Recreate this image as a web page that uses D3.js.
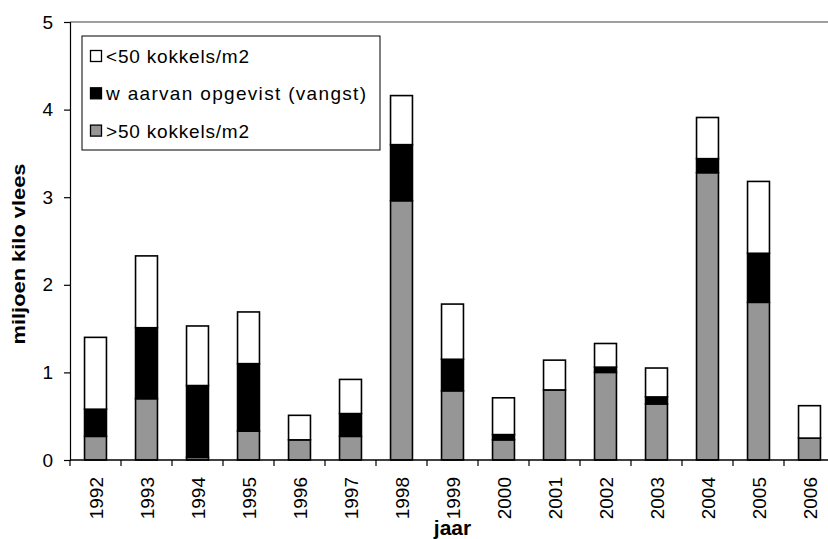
<!DOCTYPE html>
<html>
<head>
<meta charset="utf-8">
<script src="https://cdn.jsdelivr.net/npm/d3@7"></script>
<style>
  html, body { margin: 0; padding: 0; background: #fff; }
  svg { display: block; font-family: "Liberation Sans", Arial, sans-serif; }
</style>
</head>
<body>
<svg id="chart" width="828" height="539"></svg>
<script>
// ---- data ----
const years = ["1992","1993","1994","1995","1996","1997","1998","1999","2000","2001","2002","2003","2004","2005","2006"];
// >50 kokkels/m2 (bottom, grey)
const above50 = [0.27,0.70,0.03,0.33,0.23,0.27,2.96,0.79,0.23,0.80,1.00,0.64,3.28,1.80,0.25];
// waarvan opgevist (vangst) (middle, black)
const caught  = [0.31,0.81,0.82,0.77,0.00,0.26,0.64,0.36,0.06,0.00,0.06,0.08,0.16,0.56,0.00];
// <50 kokkels/m2 (top, white)
const below50 = [0.82,0.82,0.68,0.59,0.28,0.39,0.56,0.63,0.42,0.34,0.27,0.33,0.47,0.82,0.37];
const yTicks = [0,1,2,3,4,5];
const seriesNames = ["<50 kokkels/m2", "w aarvan opgevist (vangst)", ">50 kokkels/m2"];
const yTitle = "miljoen kilo vlees";
const xTitle = "jaar";

// ---- layout ----
const svg = d3.select("#chart");
const pLeft = 70, pRight = 835, pTop = 22, pBottom = 460;

const x = d3.scaleBand().domain(years).range([pLeft, pRight])
  .paddingInner(0.57).paddingOuter(0.285);
const y = d3.scaleLinear().domain([0, 5]).range([pBottom, pTop]);

const rows = years.map((yr, i) => ({year: yr, a: above50[i], c: caught[i], b: below50[i]}));
const stack = d3.stack().keys(["a", "c", "b"])(rows);
const fills = {a: "#969696", c: "#000000", b: "#ffffff"};

// top frame line (grey)
svg.append("line")
  .attr("x1", pLeft).attr("x2", pRight).attr("y1", y(5)).attr("y2", y(5))
  .attr("stroke", "#808080").attr("stroke-width", 1.5);

// bars
stack.forEach(layer => {
  svg.append("g").selectAll("rect").data(layer).join("rect")
    .attr("x", d => x(d.data.year))
    .attr("width", x.bandwidth())
    .attr("y", d => y(d[1]))
    .attr("height", d => Math.max(0, y(d[0]) - y(d[1])))
    .attr("fill", fills[layer.key])
    .attr("stroke", "#000")
    .attr("stroke-width", d => (d[1] - d[0]) > 0 ? 1.6 : 0);
});

// y axis
const yAxis = svg.append("g").attr("transform", `translate(${pLeft},0)`)
  .call(d3.axisLeft(y).tickValues(yTicks).tickFormat(d3.format("d")).tickSize(6).tickPadding(11));
yAxis.select(".domain").attr("stroke", "#000").attr("stroke-width", 1.2);
yAxis.selectAll(".tick line").attr("stroke", "#000").attr("stroke-width", 1.2);
yAxis.selectAll(".tick text").attr("font-size", 19).attr("fill", "#000")
  .attr("font-family", "Liberation Sans, Arial, sans-serif");

// x axis line
svg.append("line").attr("x1", pLeft).attr("x2", pRight).attr("y1", pBottom).attr("y2", pBottom)
  .attr("stroke", "#000").attr("stroke-width", 1.5);
// x ticks at category boundaries
const step = x.step();
const bounds = years.map(d => x(d) + x.bandwidth() / 2 - step / 2);
svg.append("g").selectAll("line").data(bounds).join("line")
  .attr("x1", d => d).attr("x2", d => d).attr("y1", pBottom).attr("y2", pBottom + 6)
  .attr("stroke", "#000").attr("stroke-width", 1.2);
// x labels
svg.append("g").selectAll("text").data(years).join("text")
  .attr("transform", d => `translate(${x(d) + x.bandwidth() / 2 + 7},477) rotate(-90)`)
  .attr("text-anchor", "end")
  .attr("font-size", 19)
  .text(d => d);

// axis titles
svg.append("text")
  .attr("transform", `translate(25,254) rotate(-90)`)
  .attr("text-anchor", "middle").attr("font-weight", "bold").attr("font-size", 19)
  .attr("textLength", 181).attr("lengthAdjust", "spacingAndGlyphs")
  .text(yTitle);
svg.append("text")
  .attr("x", (pLeft + pRight) / 2).attr("y", 535)
  .attr("text-anchor", "middle").attr("font-weight", "bold").attr("font-size", 21)
  .text(xTitle);

// legend
const lg = svg.append("g");
lg.append("rect").attr("x", 82).attr("y", 36).attr("width", 298).attr("height", 114)
  .attr("fill", "#fff").attr("stroke", "#000").attr("stroke-width", 1);
const legendItems = [
  {name: seriesNames[0], fill: fills.b},
  {name: seriesNames[1], fill: fills.c},
  {name: seriesNames[2], fill: fills.a}
];
const legendWidths = [143, 260, 143];
legendItems.forEach((it, i) => {
  const cy = 56 + i * 37.3;
  lg.append("rect").attr("x", 90.5).attr("y", cy - 5.5).attr("width", 11).attr("height", 11)
    .attr("fill", it.fill).attr("stroke", "#000").attr("stroke-width", 1.3);
  lg.append("text").attr("x", 106).attr("y", cy + 7)
    .attr("font-size", 19)
    .attr("textLength", legendWidths[i]).attr("lengthAdjust", "spacing")
    .text(it.name);
});
</script>
</body>
</html>
